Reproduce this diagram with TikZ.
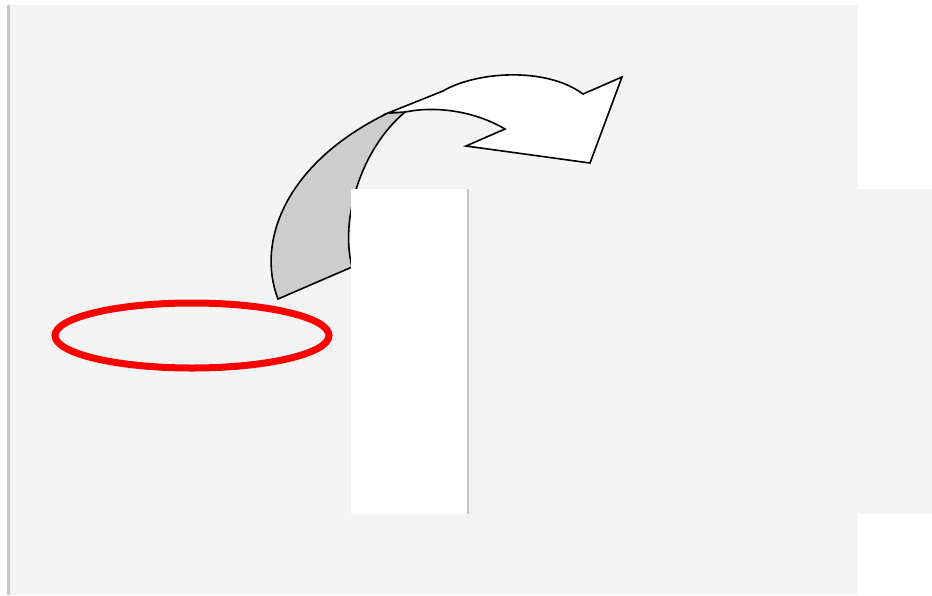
\documentclass[tikz,border=0pt]{standalone}
\usepackage{tikz}
\usepackage{xcolor}
\definecolor{cBG}{HTML}{F4F4F4}
\definecolor{cRule}{HTML}{C6C6C6}
\definecolor{cBack}{HTML}{CDCDCD}
\definecolor{cMark}{HTML}{FF0000}
\tikzset{
  panel/.style={fill=cBG,draw=none},
  blank/.style={fill=white,draw=none},
  rule/.style={draw=cRule,line width=2.5pt},
  backface/.style={fill=cBack,draw=black,line width=1.6pt,line join=miter},
  frontface/.style={fill=white,draw=black,line width=1.6pt,line join=miter},
  redring/.style={draw=cMark,line width=7pt},
}

\begin{document}
\begin{tikzpicture}[x=1pt,y=-1pt]
\useasboundingbox (0,0) rectangle (932,595);

% ============ BACKGROUND ============
\fill[panel] (7,5) rectangle (858,595);
\draw[rule] (8.5,5) -- (8.5,595);

% ============ CURVED ARROW ============
% points of the arrow body
\coordinate (A) at (278,299);
\coordinate (B) at (388,113);
\coordinate (C) at (443,91);
\coordinate (D) at (583,94);
\coordinate (E) at (622,77);
\coordinate (F) at (590,163);
\coordinate (G) at (466,146);
\coordinate (H) at (505,129);
\coordinate (I) at (405,112);
\coordinate (J) at (352,267);
% back side (grey)
\draw[backface] (A) .. controls (256,242) and (285,163) .. (B)
  -- (I) .. controls (360,150) and (340,220) .. (J) -- cycle;
% front side (white) with the head
\draw[frontface] (B) -- (C) .. controls (475,72) and (545,66) .. (D)
  -- (E) -- (F) -- (G) -- (H) .. controls (478,113) and (440,105) .. (I) -- cycle;

% ============ RED MARK ============
\draw[redring] (192,335.5) ellipse [x radius=137, y radius=32.5];

% ============ LOWER PANELS ============
\fill[blank] (351,189) rectangle (468,514);
\fill[panel] (468,189) rectangle (932,514);
\draw[rule] (468,189) -- (468,514);

\end{tikzpicture}
\end{document}
